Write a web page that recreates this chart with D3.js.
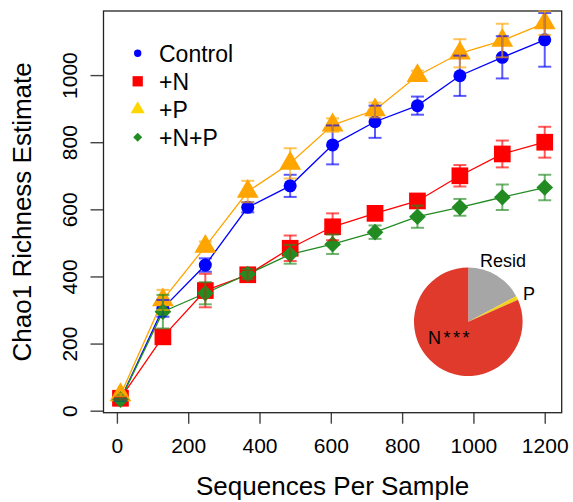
<!DOCTYPE html>
<html>
<head>
<meta charset="utf-8">
<script src="https://cdn.jsdelivr.net/npm/d3@7"></script>
<style>
  body { margin: 0; background: #fff; }
  svg { font-family: "Liberation Sans", Arial, sans-serif; }
</style>
</head>
<body>
<svg id="chart" width="573" height="502"></svg>
<script>
// sampling depth
const seqs = [10, 129, 248, 367, 486, 605, 724, 843, 962, 1081, 1200];

// mean chao1 per treatment
const control = [33, 305, 434, 606, 670, 792, 861, 909, 998, 1053, 1105];
const plusN   = [37, 220, 358, 405, 484, 548, 588, 625, 700, 765, 800];
const plusP   = [47, 330, 489, 653, 737, 851, 896, 998, 1065, 1103, 1155];
const plusNP  = [33, 295, 350, 407, 466, 496, 532, 578, 606, 636, 665];

// error bar half widths
const controlErr = [3, 25, 20, 15, 33, 58, 48, 27, 60, 63, 80];
const plusNErr   = [4, 10, 50, 15, 38, 40, 15, 18, 32, 40, 46];
const plusPErr   = [4, 30, 15, 32, 45, 20, 22, 15, 42, 50, 35];
const plusNPErr  = [3, 50, 33, 15, 28, 29, 20, 33, 25, 38, 38];

// variance partition pie
const pieLabels = ["Resid", "P", "N***"];
const pieValues = [17.2, 1.2, 81.6];

const xTicks = [0, 200, 400, 600, 800, 1000, 1200];
const yTicks = [0, 200, 400, 600, 800, 1000];

const series = [
  { name: "Control", vals: control, err: controlErr, color: "#0000FF", legendColor: "#0000FF", shape: "circle" },
  { name: "+N", vals: plusN, err: plusNErr, color: "#FF0000", legendColor: "#FF0000", shape: "square" },
  { name: "+P", vals: plusP, err: plusPErr, color: "#FFA500", legendColor: "#FFD700", shape: "triangle" },
  { name: "+N+P", vals: plusNP, err: plusNPErr, color: "#228B22", legendColor: "#228B22", shape: "diamond" }
];

const svg = d3.select("#chart");

const box = { left: 103.5, right: 561.7, top: 11, bottom: 412.7 };

const x = d3.scaleLinear().domain([-37.6, 1247.6]).range([box.left, box.right]);
const y = d3.scaleLinear().domain([-6, 1191]).range([box.bottom, box.top]);

// symbol helper, big = plot marks, small = legend
function symbolPath(shape, big) {
  const sizes = big
    ? { circle: 133, square: 279, triangle: 205, diamond: 139 }
    : { circle: 43, square: 106, triangle: 85, diamond: 41 };
  const type = {
    circle: d3.symbolCircle,
    square: d3.symbolSquare,
    triangle: d3.symbolTriangle,
    diamond: d3.symbolSquare
  }[shape];
  return d3.symbol().type(type).size(sizes[shape])();
}
function symbolRot(shape) { return shape === "diamond" ? " rotate(45)" : ""; }

// axes
const xAxis = svg.append("g")
  .attr("transform", `translate(0,${box.bottom})`)
  .call(d3.axisBottom(x).tickValues(xTicks).tickSize(11).tickPadding(9).tickFormat(d3.format("d")));
const yAxis = svg.append("g")
  .attr("transform", `translate(${box.left},0)`)
  .call(d3.axisLeft(y).tickValues(yTicks).tickSize(13).tickPadding(14).tickFormat(d3.format("d")));

[xAxis, yAxis].forEach(g => {
  g.select(".domain").remove();
  g.selectAll(".tick line").attr("stroke", "#444").attr("stroke-width", 1.4);
  g.selectAll(".tick text")
    .attr("fill", "#000")
    .style("font-family", "'Liberation Sans', Arial, sans-serif")
    .style("font-size", "21px");
});
xAxis.selectAll(".tick text").attr("dy", "0.95em");
// R style vertical labels on the y axis
yAxis.selectAll(".tick text")
  .attr("text-anchor", "middle")
  .attr("dy", "0")
  .attr("x", 0)
  .attr("y", 0)
  .attr("transform", "translate(-27,0) rotate(-90)");

// plot box
svg.append("rect")
  .attr("x", box.left).attr("y", box.top)
  .attr("width", box.right - box.left).attr("height", box.bottom - box.top)
  .attr("fill", "none").attr("stroke", "#222").attr("stroke-width", 1.3);

// axis titles
svg.append("text")
  .attr("x", (box.left + box.right) / 2)
  .attr("y", 495)
  .attr("text-anchor", "middle")
  .style("font-size", "26px")
  .text("Sequences Per Sample");

svg.append("text")
  .attr("transform", `translate(31,${(box.top + box.bottom) / 2}) rotate(-90)`)
  .attr("text-anchor", "middle")
  .style("font-size", "26px")
  .text("Chao1 Richness Estimate");

// connecting lines
const line = d3.line().x((d, i) => x(seqs[i])).y(d => y(d));
series.forEach(s => {
  svg.append("path")
    .attr("d", line(s.vals))
    .attr("fill", "none")
    .attr("stroke", s.color)
    .attr("stroke-width", 1.3);
});

// points
series.forEach(s => {
  svg.append("g").selectAll("path")
    .data(s.vals)
    .join("path")
    .attr("d", symbolPath(s.shape, true))
    .attr("transform", (d, i) => `translate(${x(seqs[i])},${y(d)})` + symbolRot(s.shape))
    .attr("fill", s.color);
});

// error bars on top, a bit transparent
const cap = 6.5;
series.forEach(s => {
  const g = svg.append("g")
    .attr("stroke", s.color)
    .attr("stroke-width", 2)
    .attr("stroke-opacity", 0.65);
  s.vals.forEach((v, i) => {
    const cx = x(seqs[i]);
    const lo = y(v - s.err[i]), hi = y(v + s.err[i]);
    g.append("line").attr("x1", cx).attr("x2", cx).attr("y1", lo).attr("y2", hi);
    g.append("line").attr("x1", cx - cap).attr("x2", cx + cap).attr("y1", lo).attr("y2", lo);
    g.append("line").attr("x1", cx - cap).attr("x2", cx + cap).attr("y1", hi).attr("y2", hi);
  });
});

// legend
const legend = svg.append("g");
series.forEach((s, i) => {
  const ly = 53.3 + i * 28;
  legend.append("path")
    .attr("d", symbolPath(s.shape, false))
    .attr("transform", `translate(137.7,${ly})` + symbolRot(s.shape))
    .attr("fill", s.legendColor);
  legend.append("text")
    .attr("x", 159)
    .attr("y", ly + 8.5)
    .style("font-size", "23px")
    .text(s.name);
});

// pie inset
const pieColors = ["#A6A6A6", "#F2D21C", "#DF3A2C"];
const pie = d3.pie().sort(null)(pieValues);
const arc = d3.arc().innerRadius(0).outerRadius(54.3);
svg.append("g")
  .attr("transform", "translate(468.3,321.7)")
  .selectAll("path")
  .data(pie)
  .join("path")
  .attr("d", arc)
  .attr("fill", (d, i) => pieColors[i]);

const pieLabelPos = [[480, 266.5], [523, 299.5], [428, 344]];
svg.append("g").selectAll("text")
  .data(pieLabels)
  .join("text")
  .attr("x", (d, i) => pieLabelPos[i][0])
  .attr("y", (d, i) => pieLabelPos[i][1])
  .style("font-size", "18px")
  .style("letter-spacing", (d, i) => i === 2 ? "2.5px" : "0px")
  .text(d => d);
</script>
</body>
</html>
